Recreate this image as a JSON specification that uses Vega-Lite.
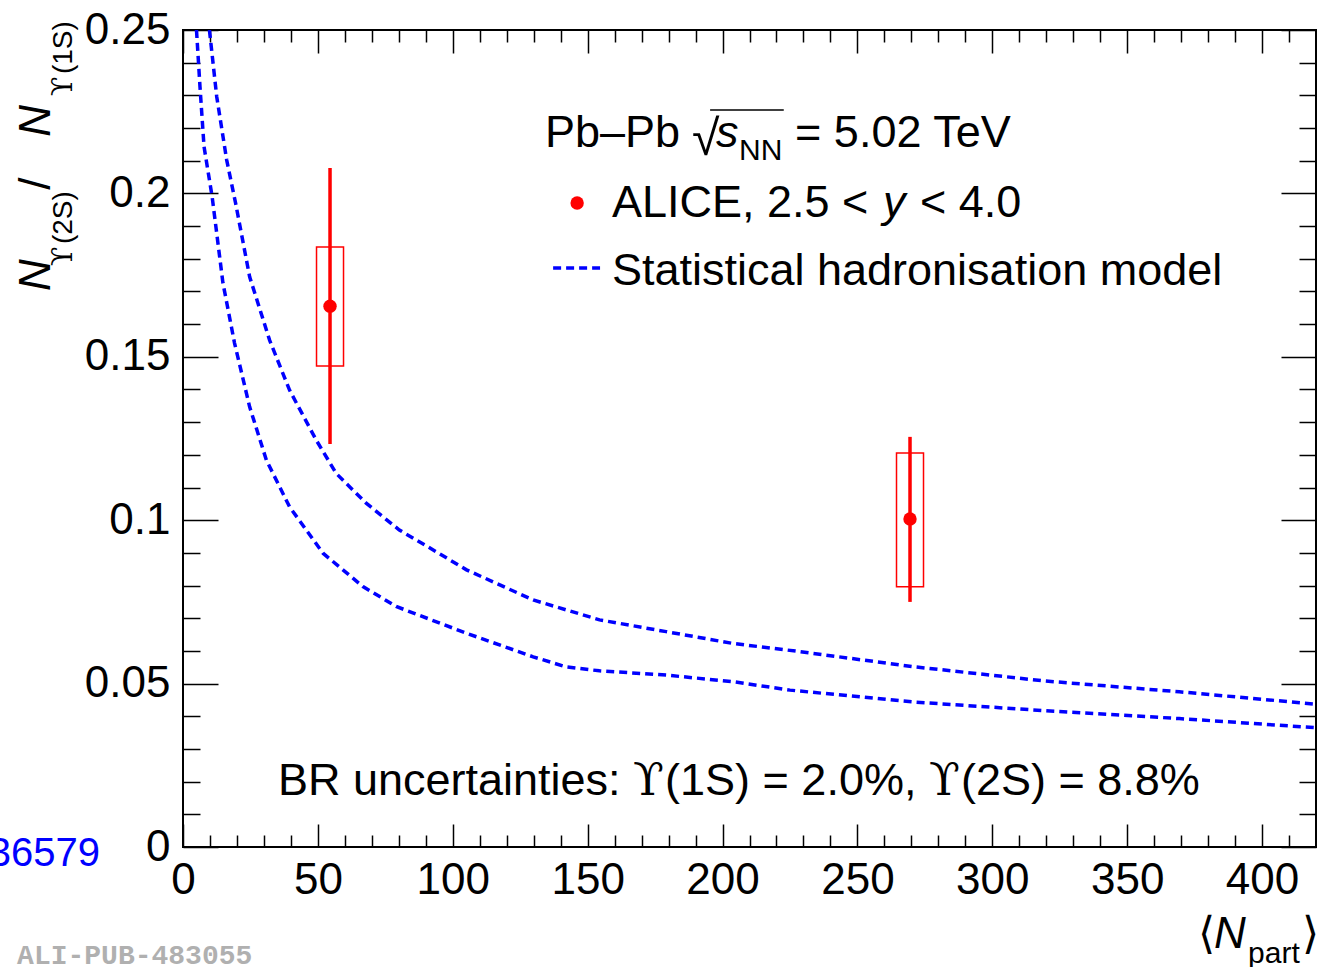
{
  "$schema": "https://vega.github.io/schema/vega-lite/v6.json",
  "width": 1133,
  "height": 817,
  "autosize": {"type": "none"},
  "padding": {"left": 183, "top": 30, "right": 1, "bottom": 120},
  "background": "white",
  "config": {
    "view": {"stroke": "black", "strokeWidth": 2},
    "font": "Liberation Sans",
    "text": {"font": "Liberation Sans"},
    "scale": {"continuousPadding": 0}
  },
  "datasets": {
    "model": [
      {"band": "upper", "Npart": 9.8, "ratio": 0.25},
      {"band": "upper", "Npart": 12.5, "ratio": 0.2296},
      {"band": "upper", "Npart": 16.2, "ratio": 0.2102},
      {"band": "upper", "Npart": 19.5, "ratio": 0.197},
      {"band": "upper", "Npart": 24.7, "ratio": 0.1745},
      {"band": "upper", "Npart": 32.1, "ratio": 0.1551},
      {"band": "upper", "Npart": 39.5, "ratio": 0.1398},
      {"band": "upper", "Npart": 49.4, "ratio": 0.1245},
      {"band": "upper", "Npart": 56.8, "ratio": 0.1143},
      {"band": "upper", "Npart": 67.9, "ratio": 0.1052},
      {"band": "upper", "Npart": 80.2, "ratio": 0.097},
      {"band": "upper", "Npart": 90.7, "ratio": 0.0919},
      {"band": "upper", "Npart": 105.1, "ratio": 0.0848},
      {"band": "upper", "Npart": 129.8, "ratio": 0.0756},
      {"band": "upper", "Npart": 154.4, "ratio": 0.0695},
      {"band": "upper", "Npart": 179.1, "ratio": 0.0659},
      {"band": "upper", "Npart": 203.8, "ratio": 0.0623},
      {"band": "upper", "Npart": 228.5, "ratio": 0.0598},
      {"band": "upper", "Npart": 270.4, "ratio": 0.0552},
      {"band": "upper", "Npart": 319.5, "ratio": 0.0508},
      {"band": "upper", "Npart": 369.3, "ratio": 0.0475},
      {"band": "upper", "Npart": 420, "ratio": 0.0437},
      {"band": "lower", "Npart": 5.0, "ratio": 0.25},
      {"band": "lower", "Npart": 6.3, "ratio": 0.2326},
      {"band": "lower", "Npart": 7.8, "ratio": 0.2143},
      {"band": "lower", "Npart": 10.8, "ratio": 0.199},
      {"band": "lower", "Npart": 14.8, "ratio": 0.1726},
      {"band": "lower", "Npart": 19.1, "ratio": 0.1542},
      {"band": "lower", "Npart": 24.7, "ratio": 0.1347},
      {"band": "lower", "Npart": 30.9, "ratio": 0.1184},
      {"band": "lower", "Npart": 39.5, "ratio": 0.1041},
      {"band": "lower", "Npart": 51.9, "ratio": 0.0899},
      {"band": "lower", "Npart": 66.7, "ratio": 0.0797},
      {"band": "lower", "Npart": 79.0, "ratio": 0.0736},
      {"band": "lower", "Npart": 105.1, "ratio": 0.0654},
      {"band": "lower", "Npart": 129.8, "ratio": 0.0582},
      {"band": "lower", "Npart": 142.1, "ratio": 0.0551},
      {"band": "lower", "Npart": 154.4, "ratio": 0.0539},
      {"band": "lower", "Npart": 179.1, "ratio": 0.0526},
      {"band": "lower", "Npart": 203.8, "ratio": 0.0506},
      {"band": "lower", "Npart": 225.0, "ratio": 0.048},
      {"band": "lower", "Npart": 270.4, "ratio": 0.0444},
      {"band": "lower", "Npart": 319.5, "ratio": 0.0417},
      {"band": "lower", "Npart": 369.3, "ratio": 0.0393},
      {"band": "lower", "Npart": 420, "ratio": 0.0365}
    ],
    "alice": [
      {"Npart": 54.5, "ratio": 0.1655, "stat_lo": 0.1233, "stat_hi": 0.2078, "sys_lo": 0.1472, "sys_hi": 0.1836},
      {"Npart": 269.5, "ratio": 0.1004, "stat_lo": 0.075, "stat_hi": 0.1255, "sys_lo": 0.0796, "sys_hi": 0.1206}
    ],
    "one": [{}]
  },
  "resolve": {"axis": {"x": "independent", "y": "independent"}},
  "layer": [
    {
      "data": {"name": "model"},
      "mark": {"type": "line", "color": "#0000ff", "strokeWidth": 3.5, "strokeDash": [8, 5], "clip": true},
      "encoding": {
        "x": {
          "field": "Npart", "type": "quantitative",
          "scale": {"domain": [0, 420], "nice": false, "zero": false, "padding": 0},
          "axis": {
            "orient": "bottom",
            "values": [0,10,20,30,40,50,60,70,80,90,100,110,120,130,140,150,160,170,180,190,200,210,220,230,240,250,260,270,280,290,300,310,320,330,340,350,360,370,380,390,400,410,420],
            "tickSize": {"condition": {"test": "datum.value % 50 === 0", "value": -23}, "value": -12},
            "tickWidth": 1.5, "tickColor": "black",
            "domain": false, "grid": false, "title": null,
            "labelFont": "Liberation Sans", "labelFontSize": 44, "labelColor": "black",
            "labelPadding": 34, "labelFlush": false, "labelOverlap": false, "labelBound": false,
            "labelExpr": "datum.value % 50 === 0 ? format(datum.value, '~g') : ''"
          }
        },
        "y": {
          "field": "ratio", "type": "quantitative",
          "scale": {"domain": [0, 0.25], "nice": false, "zero": false, "padding": 0},
          "axis": {
            "orient": "left",
            "values": [0,0.01,0.02,0.03,0.04,0.05,0.06,0.07,0.08,0.09,0.1,0.11,0.12,0.13,0.14,0.15,0.16,0.17,0.18,0.19,0.2,0.21,0.22,0.23,0.24,0.25],
            "tickSize": {"condition": {"test": "abs(round(datum.value * 100)) % 5 === 0", "value": -35}, "value": -17},
            "tickWidth": 1.5, "tickColor": "black",
            "domain": false, "grid": false, "title": null,
            "labelFont": "Liberation Sans", "labelFontSize": 44, "labelColor": "black",
            "labelPadding": 48, "labelFlush": false, "labelOverlap": false, "labelBound": false,
            "labelExpr": "abs(round(datum.value * 100)) % 5 === 0 ? format(datum.value, '~g') : ''"
          }
        },
        "detail": {"field": "band"}
      }
    },
    {
      "data": {"name": "alice"},
      "mark": {"type": "bar", "width": 27, "fill": "transparent", "stroke": "#ff0000", "strokeWidth": 1.5},
      "encoding": {
        "x": {"field": "Npart", "type": "quantitative", "axis": null},
        "y": {"field": "sys_lo", "type": "quantitative", "axis": null},
        "y2": {"field": "sys_hi"}
      }
    },
    {
      "data": {"name": "alice"},
      "mark": {"type": "rule", "color": "#ff0000", "strokeWidth": 3.5},
      "encoding": {
        "x": {
          "field": "Npart", "type": "quantitative",
          "axis": {
            "orient": "top",
            "values": [0,10,20,30,40,50,60,70,80,90,100,110,120,130,140,150,160,170,180,190,200,210,220,230,240,250,260,270,280,290,300,310,320,330,340,350,360,370,380,390,400,410,420],
            "tickSize": {"condition": {"test": "datum.value % 50 === 0", "value": -23}, "value": -12},
            "tickWidth": 1.5, "tickColor": "black",
            "domain": false, "grid": false, "title": null, "labels": false
          }
        },
        "y": {
          "field": "stat_lo", "type": "quantitative",
          "axis": {
            "orient": "right",
            "values": [0,0.01,0.02,0.03,0.04,0.05,0.06,0.07,0.08,0.09,0.1,0.11,0.12,0.13,0.14,0.15,0.16,0.17,0.18,0.19,0.2,0.21,0.22,0.23,0.24,0.25],
            "tickSize": {"condition": {"test": "abs(round(datum.value * 100)) % 5 === 0", "value": -35}, "value": -17},
            "tickWidth": 1.5, "tickColor": "black",
            "domain": false, "grid": false, "title": null, "labels": false
          }
        },
        "y2": {"field": "stat_hi"}
      }
    },
    {
      "data": {"name": "alice"},
      "mark": {"type": "point", "filled": true, "shape": "circle", "size": 180, "color": "#ff0000", "opacity": 1},
      "encoding": {
        "x": {"field": "Npart", "type": "quantitative", "axis": null},
        "y": {"field": "ratio", "type": "quantitative", "axis": null}
      }
    },
    {
      "data": {"name": "one"},
      "mark": {"type": "point", "filled": true, "shape": "circle", "size": 180, "color": "#ff0000", "opacity": 1},
      "encoding": {"x": {"datum": 146.1, "axis": null}, "y": {"datum": 0.19706, "axis": null}}
    },
    {
      "data": {"name": "one"},
      "mark": {"type": "rule", "color": "#0000ff", "strokeWidth": 3.5, "strokeDash": [8, 5]},
      "encoding": {"x": {"datum": 137.2, "axis": null}, "x2": {"datum": 154.6}, "y": {"datum": 0.17717, "axis": null}}
    },
    {
      "data": {"name": "one"},
      "mark": {"type": "rule", "color": "black", "strokeWidth": 1.5},
      "encoding": {"x": {"datum": 195.4, "axis": null}, "x2": {"datum": 222.7}, "y": {"datum": 0.2255, "axis": null}}
    },
    {
      "data": {"name": "one"},
      "mark": {"type": "text", "text": "Pb–Pb", "fontSize": 45, "align": "left", "baseline": "alphabetic", "color": "black"},
      "encoding": {"x": {"datum": 134.2, "axis": null}, "y": {"datum": 0.2142, "axis": null}}
    },
    {
      "data": {"name": "one"},
      "mark": {"type": "text", "text": "√", "fontSize": 50, "align": "left", "baseline": "alphabetic", "color": "black"},
      "encoding": {"x": {"datum": 188.7, "axis": null}, "y": {"datum": 0.2118, "axis": null}}
    },
    {
      "data": {"name": "one"},
      "mark": {"type": "text", "text": "s", "fontSize": 45, "fontStyle": "italic", "align": "left", "baseline": "alphabetic", "color": "black"},
      "encoding": {"x": {"datum": 197.6, "axis": null}, "y": {"datum": 0.2142, "axis": null}}
    },
    {
      "data": {"name": "one"},
      "mark": {"type": "text", "text": "NN", "fontSize": 30, "align": "left", "baseline": "alphabetic", "color": "black"},
      "encoding": {"x": {"datum": 206.1, "axis": null}, "y": {"datum": 0.2102, "axis": null}}
    },
    {
      "data": {"name": "one"},
      "mark": {"type": "text", "text": "= 5.02 TeV", "fontSize": 45, "align": "left", "baseline": "alphabetic", "color": "black"},
      "encoding": {"x": {"datum": 226.9, "axis": null}, "y": {"datum": 0.2142, "axis": null}}
    },
    {
      "data": {"name": "one"},
      "mark": {"type": "text", "text": "ALICE, 2.5 <", "fontSize": 45, "align": "left", "baseline": "alphabetic", "color": "black"},
      "encoding": {"x": {"datum": 159.0, "axis": null}, "y": {"datum": 0.19278, "axis": null}}
    },
    {
      "data": {"name": "one"},
      "mark": {"type": "text", "text": "y", "fontSize": 45, "fontStyle": "italic", "align": "left", "baseline": "alphabetic", "color": "black"},
      "encoding": {"x": {"datum": 259.5, "axis": null}, "y": {"datum": 0.19278, "axis": null}}
    },
    {
      "data": {"name": "one"},
      "mark": {"type": "text", "text": "< 4.0", "fontSize": 45, "align": "left", "baseline": "alphabetic", "color": "black"},
      "encoding": {"x": {"datum": 273.2, "axis": null}, "y": {"datum": 0.19278, "axis": null}}
    },
    {
      "data": {"name": "one"},
      "mark": {"type": "text", "text": "Statistical hadronisation model", "fontSize": 45, "align": "left", "baseline": "alphabetic", "color": "black"},
      "encoding": {"x": {"datum": 159.0, "axis": null}, "y": {"datum": 0.17197, "axis": null}}
    },
    {
      "data": {"name": "one"},
      "mark": {"type": "text", "text": "BR uncertainties:", "fontSize": 45, "align": "left", "baseline": "alphabetic", "color": "black"},
      "encoding": {"x": {"datum": 35.2, "axis": null}, "y": {"datum": 0.0159, "axis": null}}
    },
    {
      "data": {"name": "one"},
      "mark": {"type": "text", "text": "ϒ", "font": "DejaVu Serif", "fontSize": 45, "align": "left", "baseline": "alphabetic", "color": "black"},
      "encoding": {"x": {"datum": 166.8, "axis": null}, "y": {"datum": 0.0159, "axis": null}}
    },
    {
      "data": {"name": "one"},
      "mark": {"type": "text", "text": "(1S) = 2.0%,", "fontSize": 45, "align": "left", "baseline": "alphabetic", "color": "black"},
      "encoding": {"x": {"datum": 178.7, "axis": null}, "y": {"datum": 0.0159, "axis": null}}
    },
    {
      "data": {"name": "one"},
      "mark": {"type": "text", "text": "ϒ", "font": "DejaVu Serif", "fontSize": 45, "align": "left", "baseline": "alphabetic", "color": "black"},
      "encoding": {"x": {"datum": 276.5, "axis": null}, "y": {"datum": 0.0159, "axis": null}}
    },
    {
      "data": {"name": "one"},
      "mark": {"type": "text", "text": "(2S) = 8.8%", "fontSize": 45, "align": "left", "baseline": "alphabetic", "color": "black"},
      "encoding": {"x": {"datum": 288.4, "axis": null}, "y": {"datum": 0.0159, "axis": null}}
    },
    {
      "data": {"name": "one"},
      "mark": {"type": "text", "text": "36579", "fontSize": 40, "align": "right", "baseline": "alphabetic", "color": "#0000ff"},
      "encoding": {"x": {"datum": -30.8, "axis": null}, "y": {"datum": -0.0058, "axis": null}}
    },
    {
      "data": {"name": "one"},
      "mark": {"type": "text", "text": "ALI-PUB-483055", "font": "Liberation Mono", "fontWeight": "bold", "fontSize": 28, "align": "left", "baseline": "alphabetic", "color": "#b0b0b0"},
      "encoding": {"x": {"datum": -61.5, "axis": null}, "y": {"datum": -0.0358, "axis": null}}
    },
    {
      "data": {"name": "one"},
      "mark": {"type": "text", "text": "N", "fontSize": 44, "fontStyle": "italic", "angle": 270, "align": "left", "baseline": "alphabetic", "color": "black"},
      "encoding": {"x": {"datum": -49.3, "axis": null}, "y": {"datum": 0.1701, "axis": null}}
    },
    {
      "data": {"name": "one"},
      "mark": {"type": "text", "text": "ϒ", "font": "DejaVu Serif", "fontSize": 28, "angle": 270, "align": "left", "baseline": "alphabetic", "color": "black"},
      "encoding": {"x": {"datum": -41.1, "axis": null}, "y": {"datum": 0.1778, "axis": null}}
    },
    {
      "data": {"name": "one"},
      "mark": {"type": "text", "text": "(2S)", "fontSize": 28, "angle": 270, "align": "left", "baseline": "alphabetic", "color": "black"},
      "encoding": {"x": {"datum": -41.1, "axis": null}, "y": {"datum": 0.1845, "axis": null}}
    },
    {
      "data": {"name": "one"},
      "mark": {"type": "text", "text": "/", "fontSize": 44, "angle": 270, "align": "left", "baseline": "alphabetic", "color": "black"},
      "encoding": {"x": {"datum": -49.3, "axis": null}, "y": {"datum": 0.2011, "axis": null}}
    },
    {
      "data": {"name": "one"},
      "mark": {"type": "text", "text": "N", "fontSize": 44, "fontStyle": "italic", "angle": 270, "align": "left", "baseline": "alphabetic", "color": "black"},
      "encoding": {"x": {"datum": -49.3, "axis": null}, "y": {"datum": 0.2173, "axis": null}}
    },
    {
      "data": {"name": "one"},
      "mark": {"type": "text", "text": "ϒ", "font": "DejaVu Serif", "fontSize": 28, "angle": 270, "align": "left", "baseline": "alphabetic", "color": "black"},
      "encoding": {"x": {"datum": -41.1, "axis": null}, "y": {"datum": 0.2298, "axis": null}}
    },
    {
      "data": {"name": "one"},
      "mark": {"type": "text", "text": "(1S)", "fontSize": 28, "angle": 270, "align": "left", "baseline": "alphabetic", "color": "black"},
      "encoding": {"x": {"datum": -41.1, "axis": null}, "y": {"datum": 0.2365, "axis": null}}
    },
    {
      "data": {"name": "one"},
      "mark": {"type": "text", "text": "⟨", "font": "Liberation Sans, DejaVu Sans", "fontSize": 44, "align": "left", "baseline": "alphabetic", "color": "black"},
      "encoding": {"x": {"datum": 376.3, "axis": null}, "y": {"datum": -0.0309, "axis": null}}
    },
    {
      "data": {"name": "one"},
      "mark": {"type": "text", "text": "N", "fontSize": 44, "fontStyle": "italic", "align": "left", "baseline": "alphabetic", "color": "black"},
      "encoding": {"x": {"datum": 382.2, "axis": null}, "y": {"datum": -0.0309, "axis": null}}
    },
    {
      "data": {"name": "one"},
      "mark": {"type": "text", "text": "part", "fontSize": 30, "align": "left", "baseline": "alphabetic", "color": "black"},
      "encoding": {"x": {"datum": 394.8, "axis": null}, "y": {"datum": -0.0355, "axis": null}}
    },
    {
      "data": {"name": "one"},
      "mark": {"type": "text", "text": "⟩", "font": "Liberation Sans, DejaVu Sans", "fontSize": 44, "align": "left", "baseline": "alphabetic", "color": "black"},
      "encoding": {"x": {"datum": 414.8, "axis": null}, "y": {"datum": -0.0309, "axis": null}}
    }
  ]
}
